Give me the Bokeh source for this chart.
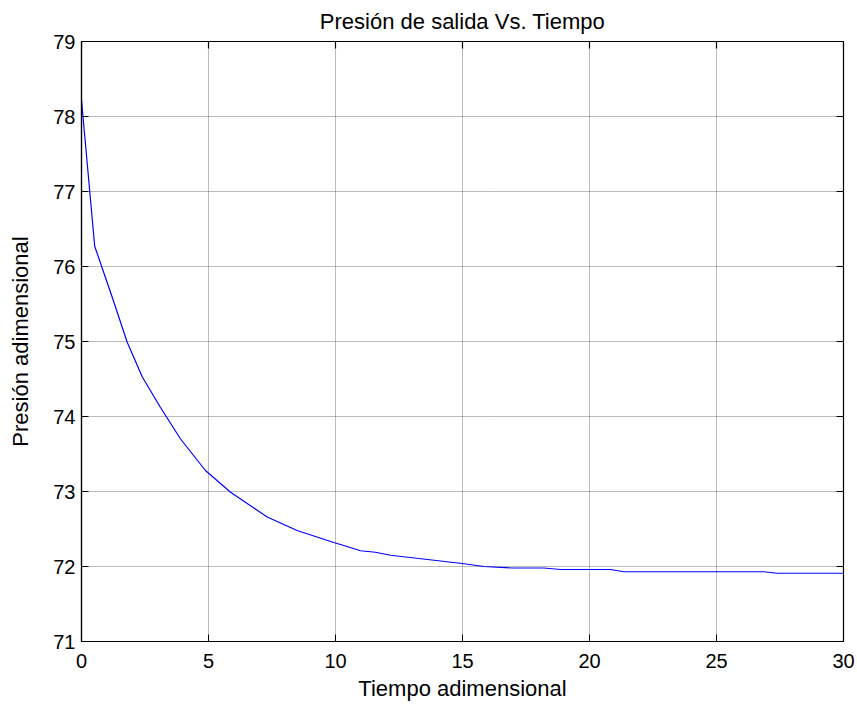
import math
from bokeh.plotting import figure
from bokeh.models import Range1d, FixedTicker, Title
from bokeh.embed import file_html
from bokeh.resources import INLINE

# data
tiempo = [0, 0.52, 1.21, 1.8, 2.39, 3.11, 3.9, 4.88, 5.87, 7.31, 8.49, 9.93, 10.33,
          10.98, 11.57, 12.17, 14.99, 15.84, 16.96, 18.2, 18.86, 19.96, 20.83, 21.35,
          26.86, 27.39, 30]
presion = [78.22, 76.27, 75.59, 74.99, 74.53, 74.12, 73.70, 73.28, 72.99, 72.66, 72.48,
           72.32, 72.28, 72.21, 72.19, 72.15, 72.04, 72.0, 71.98, 71.98, 71.96, 71.96,
           71.96, 71.93, 71.93, 71.91, 71.91]
x_ticks = [0, 5, 10, 15, 20, 25, 30]
y_ticks = [71, 72, 73, 74, 75, 76, 77, 78, 79]

FONT = "Liberation Sans"

X0, X1 = x_ticks[0], x_ticks[-1]
Y0, Y1 = y_ticks[0], y_ticks[-1]

p = figure(width=857, height=707, output_backend="svg", toolbar_location=None,
           x_range=Range1d(X0, X1), y_range=Range1d(Y0, Y1),
           min_border_left=81, min_border_right=14, min_border_top=41, min_border_bottom=66)
p.title = Title(text="Presión de salida Vs. Tiempo", align="center",
                text_font=FONT, text_font_size="22px", text_font_style="normal",
                text_color="black", standoff=12, vertical_align="top")

p.line(tiempo, presion, line_color="#0000ff", line_width=1.2)

p.outline_line_color = "black"
p.outline_line_width = 1.2
p.background_fill_color = "white"
p.border_fill_color = "white"

for ax in p.xaxis + p.yaxis:
    ax.major_tick_in = 7
    ax.major_tick_out = 0
    ax.minor_tick_in = 0
    ax.minor_tick_out = 0
    ax.axis_line_color = "black"
    ax.axis_line_width = 1.2
    ax.major_tick_line_color = "black"
    ax.major_label_text_font = FONT
    ax.major_label_text_font_size = "20px"
    ax.major_label_text_color = "black"
    ax.axis_label_text_font = FONT
    ax.axis_label_text_font_size = "22px"
    ax.axis_label_text_font_style = "normal"
    ax.axis_label_text_color = "black"

p.xaxis.ticker = FixedTicker(ticks=x_ticks)
p.yaxis.ticker = FixedTicker(ticks=y_ticks)
p.xaxis.axis_label = "Tiempo adimensional"
p.yaxis.axis_label = "Presión adimensional"
p.xaxis.major_label_standoff = 12
p.yaxis.major_label_standoff = 6
p.xaxis.axis_label_standoff = 5
p.yaxis.axis_label_standoff = 17

# inward ticks on the top and right edges of the box
p.ray(x=x_ticks, y=[Y1] * len(x_ticks), length=7, length_units="screen",
      angle=-math.pi / 2, line_color="black", line_width=1.2)
p.ray(x=[X1] * len(y_ticks), y=y_ticks, length=7, length_units="screen",
      angle=math.pi, line_color="black", line_width=1.2)

p.xgrid.ticker = FixedTicker(ticks=x_ticks)
p.ygrid.ticker = FixedTicker(ticks=y_ticks)
for g in (p.xgrid, p.ygrid):
    g.grid_line_color = "#555555"
    g.grid_line_dash = "1 1"
    g.grid_line_width = 1
    g.grid_line_alpha = 0.8

open("out.html", "w").write(file_html(p, INLINE))
